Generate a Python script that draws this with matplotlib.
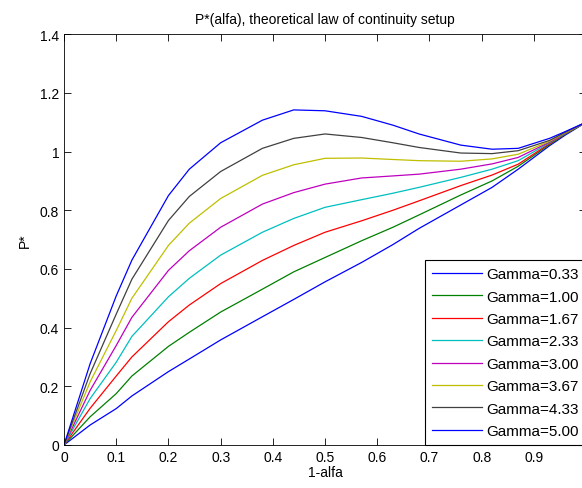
import matplotlib
matplotlib.use("Agg")
import matplotlib.pyplot as plt
import numpy as np

plt.rcParams['font.family'] = ['Liberation Sans', 'DejaVu Sans']

# values
x = [0, 0.05, 0.1, 0.13, 0.2, 0.24, 0.3, 0.38, 0.44, 0.5, 0.57, 0.63, 0.68, 0.76, 0.82, 0.87, 0.93, 0.96, 1.0]
gammas = ["0.33", "1.00", "1.67", "2.33", "3.00", "3.67", "4.33", "5.00"]
p_033 = [0, 0.068, 0.124, 0.167, 0.25, 0.293, 0.358, 0.437, 0.496, 0.556, 0.622, 0.683, 0.738, 0.818, 0.878, 0.94, 1.02, 1.056, 1.10]
p_100 = [0, 0.096, 0.175, 0.235, 0.336, 0.384, 0.453, 0.531, 0.59, 0.639, 0.696, 0.742, 0.784, 0.852, 0.90, 0.95, 1.024, 1.059, 1.10]
p_167 = [0, 0.125, 0.235, 0.30, 0.42, 0.477, 0.55, 0.629, 0.68, 0.725, 0.764, 0.80, 0.832, 0.884, 0.92, 0.957, 1.027, 1.061, 1.10]
p_233 = [0, 0.158, 0.282, 0.37, 0.505, 0.568, 0.647, 0.725, 0.772, 0.81, 0.836, 0.858, 0.878, 0.912, 0.94, 0.969, 1.03, 1.062, 1.10]
p_300 = [0, 0.186, 0.339, 0.435, 0.595, 0.662, 0.742, 0.821, 0.86, 0.889, 0.91, 0.917, 0.923, 0.94, 0.958, 0.98, 1.032, 1.063, 1.10]
p_367 = [0, 0.215, 0.39, 0.50, 0.68, 0.756, 0.84, 0.919, 0.955, 0.977, 0.978, 0.973, 0.969, 0.967, 0.975, 0.991, 1.035, 1.064, 1.10]
p_433 = [0, 0.243, 0.446, 0.565, 0.765, 0.847, 0.932, 1.011, 1.045, 1.06, 1.048, 1.03, 1.014, 0.995, 0.993, 1.003, 1.038, 1.066, 1.10]
p_500 = [0, 0.277, 0.508, 0.63, 0.85, 0.94, 1.03, 1.107, 1.142, 1.139, 1.12, 1.09, 1.06, 1.022, 1.008, 1.011, 1.045, 1.068, 1.10]
series = [p_033, p_100, p_167, p_233, p_300, p_367, p_433, p_500]
colors = ['#0000ff', '#008000', '#ff0000', '#00bfbf', '#bf00bf', '#bfbf00', '#404040', '#0000ff']

fig = plt.figure(figsize=(5.82, 4.89), dpi=100)
ax = fig.add_axes([0.110, 0.088, 0.897, 0.840])

for g, p, c in zip(gammas, series, colors):
    ax.plot(x, p, color=c, lw=0.9, label='Gamma=' + g)

ax.set_xlim(0, 1)
ax.set_ylim(0, 1.4)
ax.set_xticks(np.arange(0, 1.0, 0.1))
ax.set_xticklabels(['0', '0.1', '0.2', '0.3', '0.4', '0.5', '0.6', '0.7', '0.8', '0.9'])
ax.set_yticks(np.arange(0, 1.41, 0.2))
ax.set_yticklabels(['0', '0.2', '0.4', '0.6', '0.8', '1', '1.2', '1.4'])
ax.tick_params(direction='in', top=True, right=True, labelsize=10, length=5, width=0.6)
for s in ax.spines.values():
    s.set_linewidth(0.6)

ax.set_title('P*(alfa), theoretical law of continuity setup', fontsize=10, pad=8)
ax.set_xlabel('1-alfa', fontsize=10, labelpad=1)
ax.set_ylabel('P*', fontsize=10, labelpad=6)

leg = ax.legend(loc='lower right', fontsize=11, borderaxespad=0, fancybox=False,
                framealpha=1, edgecolor='black', handlelength=3.3, handletextpad=0.3,
                labelspacing=0.55, borderpad=0.45)
leg.get_frame().set_linewidth(0.8)

fig.savefig('out.png', dpi=100)
